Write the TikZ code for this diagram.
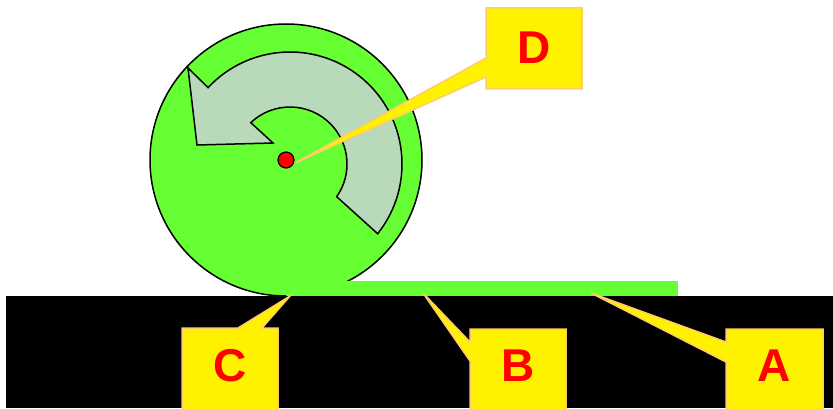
\documentclass[tikz,border=0pt]{standalone}
\usepackage{fontspec}
\setmainfont{Liberation Sans}
\usetikzlibrary{calc}
\definecolor{wheelgreen}{RGB}{102,255,51}
\definecolor{arrowfill}{RGB}{184,217,186}
\definecolor{calloutedge}{RGB}{255,204,102}
\tikzset{
  wheel/.style={draw=black, line width=1.5pt, fill=wheelgreen},
  turnarrow/.style={draw=black, line width=1.5pt, fill=arrowfill, line join=miter},
  callout/.style={draw=calloutedge, line width=1.5pt, fill=yellow, line join=miter},
  letter/.style={text=red, font=\fontsize{46}{46}\selectfont\bfseries, inner sep=0pt, anchor=center},
}
\begin{document}
\begin{tikzpicture}[x=1pt,y=1pt]
\useasboundingbox (0,0) rectangle (833,408);
\begin{scope}
\clip (0,0) rectangle (833,408);

% ground
\fill[black] (6,0) rectangle (833,112);

% wheel and the strip it rolls along
\coordinate (hub) at (286,248);
\draw[wheel] (hub) circle[radius=136];
\fill[wheelgreen] (286,112) rectangle (678,127);

% curved arrow showing the sense of rotation
\coordinate (ac) at (290,244);
\draw[turnarrow]
  ($(ac)+(-38.5:112)$) arc[start angle=-38.5, end angle=137, radius=112]
  -- (188,340) -- (197,263) -- (273,265)
  -- ($(ac)+(133.5:57)$) arc[start angle=133.5, end angle=-35, radius=57]
  -- cycle;

% callout pointers' tips
\coordinate (tipD) at (295,245);
\coordinate (tipC) at (290,112);
\coordinate (tipB) at (423,115);
\coordinate (tipA) at (591,115);

% callouts
\draw[callout] (486,400) -- (582,400) -- (582,319) -- (486,319) -- (486,331) -- (tipD) -- (486,350) -- cycle;
\draw[callout] (182,80) -- (238,80) -- (tipC) -- (262,80) -- (278,80) -- (278,-2) -- (182,-2) -- cycle;
\draw[callout] (470,79) -- (566,79) -- (566,-2) -- (470,-2) -- (470,47) -- (tipB) -- (470,66) -- cycle;
\draw[callout] (726,79) -- (823,79) -- (823,-2) -- (726,-2) -- (726,46) -- (tipA) -- (726,66) -- cycle;

% wheel centre
\draw[fill=red, line width=1.2pt] (hub) circle[radius=8];

\node[letter] (labD) at (534,360) {D};
\node[letter] (labC) at (230,42) {C};
\node[letter] (labB) at (518,42) {B};
\node[letter] (labA) at (774.5,42) {A};
\end{scope}
\end{tikzpicture}
\end{document}
